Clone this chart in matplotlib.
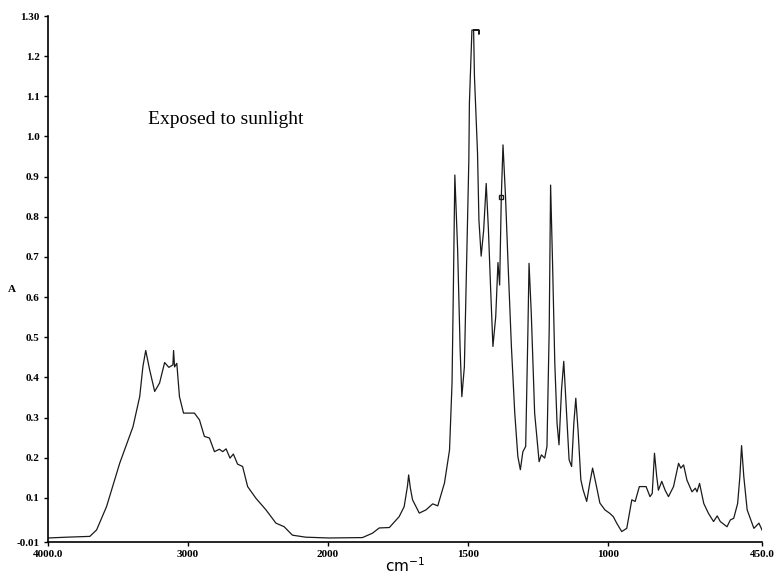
import numpy as np
import matplotlib
matplotlib.use("Agg")
import matplotlib.pyplot as plt
from matplotlib.ticker import FixedLocator

# IR spectrum, exposed sample (wavenumber cm-1, absorbance)
wavenumber = [
    4000, 3867, 3701, 3653, 3582, 3488, 3393, 3345, 3322, 3302, 3274, 3238,
    3203, 3167, 3137, 3108, 3103, 3096, 3080, 3061, 3032, 2954, 2918, 2883,
    2847, 2811, 2776, 2752, 2728, 2700, 2676, 2646, 2610, 2574, 2515, 2443,
    2372, 2313, 2254, 2159, 1997,
    1877, 1841, 1817, 1781, 1746, 1728, 1716, 1712, 1706, 1698, 1674, 1650, 1626, 1608,
    1584, 1566, 1557, 1552, 1547, 1537, 1528, 1522, 1513, 1504, 1497, 1495,
    1486, 1461, 1461, 1461, 1480, 1477, 1466, 1461, 1453, 1444, 1435, 1427,
    1420, 1411, 1401, 1393, 1387, 1381, 1375, 1366, 1357, 1345, 1333, 1322,
    1313, 1304, 1294, 1286, 1282, 1274, 1262, 1246, 1238, 1226, 1218, 1210,
    1205, 1198, 1190, 1182, 1175, 1166, 1158, 1148, 1139, 1130, 1122, 1115,
    1107, 1097, 1089, 1076, 1065, 1055, 1041, 1029, 1011, 993, 981, 969,
    951, 933, 915, 903, 888, 880, 864, 850, 842, 834, 826, 820, 808, 796,
    784, 766, 748, 740, 730, 718, 700, 688, 682, 673, 658, 641, 623, 610,
    599, 575, 563, 551, 537, 529, 523, 515, 503, 479, 461, 450,
]
absorbance = [
    0.000, 0.002, 0.004, 0.020, 0.078, 0.186, 0.277, 0.352, 0.427, 0.467, 0.419, 0.365,
    0.386, 0.437, 0.425, 0.431, 0.467, 0.426, 0.435, 0.352, 0.311, 0.311, 0.294, 0.253,
    0.249, 0.215, 0.221, 0.215, 0.222, 0.199, 0.209, 0.184, 0.178, 0.128, 0.099, 0.070,
    0.037, 0.028, 0.007, 0.002, 0.000,
    0.001, 0.012, 0.025, 0.026, 0.053, 0.078, 0.130, 0.157, 0.125, 0.095, 0.062, 0.070, 0.085, 0.080,
    0.137, 0.219, 0.386, 0.635, 0.904, 0.717, 0.468, 0.352, 0.426, 0.717, 0.941, 1.083,
    1.265, 1.265, 1.255, 1.265, 1.265, 1.150, 0.959, 0.792, 0.702, 0.767, 0.883, 0.767,
    0.635, 0.477, 0.551, 0.686, 0.630, 0.850, 0.979, 0.850, 0.684, 0.477, 0.311, 0.203,
    0.170, 0.215, 0.228, 0.518, 0.684, 0.559, 0.311, 0.190, 0.207, 0.199, 0.228, 0.518,
    0.879, 0.684, 0.435, 0.286, 0.232, 0.369, 0.440, 0.311, 0.195, 0.178, 0.286, 0.348,
    0.269, 0.145, 0.120, 0.091, 0.137, 0.174, 0.128, 0.087, 0.070, 0.061, 0.053, 0.037,
    0.016, 0.024, 0.095, 0.091, 0.128, 0.128, 0.128, 0.103, 0.111, 0.211, 0.153, 0.119, 0.141, 0.119,
    0.103, 0.128, 0.186, 0.174, 0.182, 0.144, 0.115, 0.124, 0.115, 0.136, 0.086, 0.061, 0.041, 0.055,
    0.041, 0.028, 0.045, 0.049, 0.086, 0.153, 0.230, 0.153, 0.070, 0.024, 0.037, 0.020,
]

# peak marker drawn by the instrument
mark_wn = [1381]
mark_a = [0.85]

xticks = [4000, 3000, 2000, 1500, 1000, 450]
xtick_labels = ["4000.0", "3000", "2000", "1500", "1000", "450.0"]
yticks = [1.30, 1.2, 1.1, 1.0, 0.9, 0.8, 0.7, 0.6, 0.5, 0.4, 0.3, 0.2, 0.1, -0.01]
ytick_labels = ["1.30", "1.2", "1.1", "1.0", "0.9", "0.8", "0.7", "0.6", "0.5",
                "0.4", "0.3", "0.2", "0.1", "-0.01"]


# 4000-2000 region is drawn at half scale, like the instrument does
def forward(w):
    w = np.asarray(w, dtype=float)
    return np.where(w < 2000, w, 2000 + (w - 2000) * 0.5)


def inverse(u):
    u = np.asarray(u, dtype=float)
    return np.where(u < 2000, u, 2000 + (u - 2000) * 2.0)


fig = plt.figure(figsize=(7.76, 5.75), dpi=100)
ax = fig.add_axes([48 / 776, 33 / 575, 714 / 776, 526 / 575])
ax.set_xscale("function", functions=(forward, inverse))

ax.plot(wavenumber, absorbance, color="#1a1a1a", lw=0.9)
ax.plot(mark_wn, mark_a, ls="none", marker="s", ms=3.5, mfc="none", mec="#1a1a1a", mew=1.0)

ax.set_xlim(4000, 450)
ax.set_ylim(-0.01, 1.30)

for s in ["top", "right"]:
    ax.spines[s].set_visible(False)
ax.spines["left"].set_linewidth(1.2)
ax.spines["bottom"].set_linewidth(1.2)

tick_font = dict(family="Liberation Serif", weight="bold", size=8)
ax.xaxis.set_minor_locator(FixedLocator([]))
ax.set_xticks(xticks)
ax.set_xticklabels(xtick_labels, fontdict=tick_font)
ax.set_yticks(yticks)
ax.set_yticklabels(ytick_labels, fontdict=tick_font)
ax.tick_params(axis="both", direction="out", length=3, width=1, pad=3)

fig.text(12 / 776, 1 - 290 / 575, "A", ha="center", va="center",
         family="Liberation Serif", weight="bold", fontsize=8)
fig.text(405 / 776, 1 - 566 / 575, r"cm$^{-1}$", ha="center", va="center",
         family="DejaVu Sans", fontsize=11)
ax.text(148 / 776, 1 - 119 / 575, "Exposed to sunlight", transform=fig.transFigure,
        ha="left", va="center", family="Liberation Serif", fontsize=14)

fig.savefig("out.png", dpi=100)
